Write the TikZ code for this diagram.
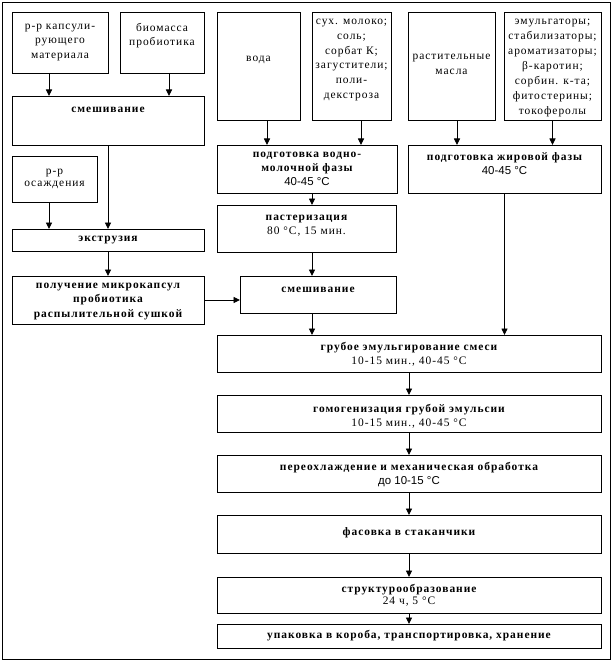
\documentclass[tikz,border=0pt]{standalone}
\usepackage{fontspec}
\setmainfont{Liberation Serif}[LetterSpace=8.5]
\newfontfamily\sansA{Liberation Sans}
\usetikzlibrary{arrows.meta}
\newcommand\hb[1]{{\bfseries #1}}
\newcommand\sa[1]{{\sansA\fontsize{11.5}{14}\selectfont #1}}
\newcommand\bx[5]{\node[box, minimum width=#4bp, minimum height=#5bp] (#1) at (#2,#3) {};}
\begin{document}
\begin{tikzpicture}[x=1bp,y=-1bp,
  box/.style={draw, line width=0.9bp, inner sep=0pt, outer sep=0pt},
  txt/.style={align=center, inner sep=0pt, font=\fontsize{11.5}{14.5}\selectfont},
  arr/.style={line width=0.9bp, -{Triangle[width=6bp,length=6.5bp]}}]
\useasboundingbox (0,0) rectangle (614,662);
\bx{frame}{306}{330.5}{608}{657}
% left column
\bx{b1}{60}{42.5}{96}{61}
\bx{b2}{162}{42.5}{84}{61}
\bx{mixL}{108}{120.5}{192}{49}
\bx{osazh}{54.5}{179}{85}{46}
\bx{extr}{108}{240}{192}{22}
\bx{micro}{108}{300}{192}{48}
% top inputs
\bx{voda}{258.5}{66}{83}{108}
\bx{sukh}{351.5}{66}{79}{108}
\bx{rast}{451.5}{66}{87}{108}
\bx{emul}{552.5}{66}{97}{108}
% phases
\bx{vodmol}{307}{169}{180}{48}
\bx{zhir}{504.5}{169}{193}{48}
\bx{paster}{306.5}{228.5}{179}{47}
\bx{mixC}{318}{294.5}{156}{37}
% main column
\bx{grub}{409}{353.5}{384}{37}
\bx{gomog}{409}{413.5}{384}{37}
\bx{pereokh}{409}{473.5}{384}{37}
\bx{fasov}{409}{534}{384}{38}
\bx{struct}{409}{595}{384}{36}
\bx{upak}{409}{636}{384}{24}
% texts
\node[txt] (b1t) at (60,42.5) {р-р капсули-\\рующего\\материала};
\node[txt] (b2t) at (162,35.5) {биомасса\\пробиотика};
\node[txt] (mixLt) at (108,110) {\hb{смешивание}};
\node[txt, font=\fontsize{11.5}{12}\selectfont] (osazht) at (54.5,179) {р-р\\осаждения};
\node[txt] (extrt) at (108,240) {\hb{экструзия}};
\node[txt] (microt) at (108,301.5) {\hb{получение микрокапсул}\\\hb{пробиотика}\\\hb{распылительной сушкой}};
\node[txt] (vodat) at (258.5,60) {вода};
\node[txt, font=\fontsize{11.5}{14.8}\selectfont] (sukht) at (351.5,60) {сух. молоко;\\соль;\\сорбат К;\\загустители;\\поли-\\декстроза};
\node[txt] (rastt) at (451.5,64.5) {растительные\\масла};
\node[txt, font=\fontsize{11.5}{15}\selectfont] (emult) at (552.5,68) {эмульгаторы;\\стабилизаторы;\\ароматизаторы;\\β-каротин;\\сорбин. к-та;\\фитостерины;\\токоферолы};
\node[txt, font=\fontsize{11.5}{14}\selectfont] (vodmolt) at (307,169) {\hb{подготовка водно-}\\\hb{молочной фазы}\\\sa{40-45 °C}};
\node[txt, font=\fontsize{11.5}{13.5}\selectfont] (zhirt) at (504.5,163.5) {\hb{подготовка жировой фазы}\\\sa{40-45 °C}};
\node[txt] (pastert) at (306.5,225.5) {\hb{пастеризация}\\80 °C, 15 мин.};
\node[txt] (mixCt) at (318,290) {\hb{смешивание}};
\node[txt, font=\fontsize{11.5}{14}\selectfont] (grubt) at (409,354.5) {\hb{грубое эмульгирование смеси}\\10-15 мин., 40-45 °C};
\node[txt, font=\fontsize{11.5}{13.5}\selectfont] (gomogt) at (409,416.5) {\hb{гомогенизация грубой эмульсии}\\10-15 мин., 40-45 °C};
\node[txt, font=\fontsize{11.5}{14}\selectfont] (pereokht) at (409,475) {\hb{переохлаждение и механическая обработка}\\\sa{до 10-15 °C}};
\node[txt] (fasovt) at (409,533) {\hb{фасовка в стаканчики}};
\node[txt, font=\fontsize{11.5}{12}\selectfont] (structt) at (409,595.5) {\hb{структурообразование}\\24 ч, 5 °C};
\node[txt] (upakt) at (409,636) {\hb{упаковка в короба, транспортировка, хранение}};
% x positions for connectors
\coordinate (x49) at (49,0);
\coordinate (x169) at (169,0);
\coordinate (x108) at (108,0);
\coordinate (x267) at (267,0);
\coordinate (x361) at (361,0);
\coordinate (x457) at (457,0);
\coordinate (x312) at (312,0);
% connectors
\draw[arr] (b1.south -| x49) -- (mixL.north -| x49);
\draw[arr] (b2.south -| x169) -- (mixL.north -| x169);
\draw[arr] (mixL.south -| x108) -- (extr.north -| x108);
\draw[arr] (osazh.south -| x49) -- (extr.north -| x49);
\draw[arr] (extr) -- (micro);
\draw[arr] (micro.east) -- (mixC.west |- micro.east);
\draw[arr] (voda.south -| x267) -- (vodmol.north -| x267);
\draw[arr] (sukh.south -| x361) -- (vodmol.north -| x361);
\draw[arr] (rast.south -| x457) -- (zhir.north -| x457);
\draw[arr] (emul.south) -- (zhir.north -| emul.south);
\draw[arr] (vodmol.south -| x312) -- (paster.north -| x312);
\draw[arr] (paster.south -| x312) -- (mixC.north -| x312);
\draw[arr] (mixC.south -| x312) -- (grub.north -| x312);
\draw[arr] (zhir.south) -- (grub.north -| zhir.south);
\draw[arr] (grub) -- (gomog);
\draw[arr] (gomog) -- (pereokh);
\draw[arr] (pereokh) -- (fasov);
\draw[arr] (fasov) -- (struct);
\draw[arr] (struct) -- (upak);
\end{tikzpicture}
\end{document}
